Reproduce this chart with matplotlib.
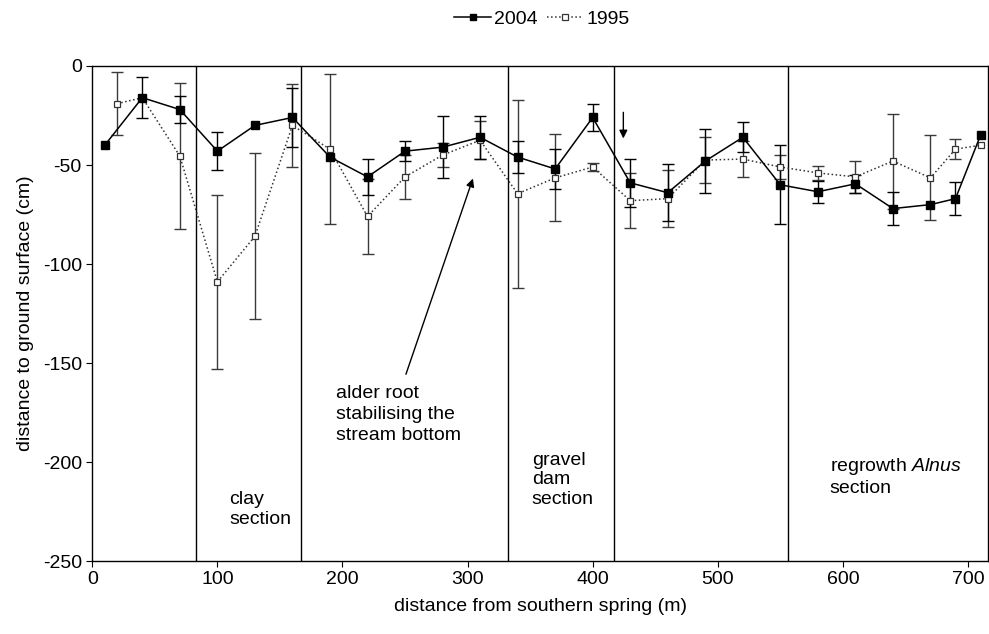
import matplotlib
matplotlib.use("Agg")
from matplotlib import pyplot as plt
from matplotlib.lines import Line2D

plt.rcParams['font.family'] = ['Liberation Sans', 'DejaVu Sans']
plt.rcParams['mathtext.fontset'] = 'custom'
plt.rcParams['mathtext.rm'] = 'Liberation Sans'
plt.rcParams['mathtext.it'] = 'Liberation Sans:italic'
plt.rcParams['axes.unicode_minus'] = False

# distance from southern spring (m)
x_2004 = [10, 40, 70, 100, 130, 160, 190, 220, 250, 280, 310, 340, 370,
          400, 430, 460, 490, 520, 550, 580, 610, 640, 670, 690, 710]
y_2004 = [-40, -16, -22, -43, -30, -26, -46, -56, -43, -41, -36, -46, -52,
          -26, -59, -64, -48, -36, -60, -63.5, -59.5, -72, -70, -67, -35]
err_2004 = [0, 10.5, 7, 9.5, 0, 15, 0, 9, 5, 15.5, 11, 8, 10,
            7, 12, 14.5, 16, 7.5, 20, 5.5, 4.5, 8.5, 0, 8.5, 0]

x_1995 = [20, 40, 70, 100, 130, 160, 190, 220, 250, 280, 310, 340, 370,
          400, 430, 460, 490, 520, 550, 580, 610, 640, 670, 690, 710]
y_1995 = [-19, -16, -45.5, -109, -86, -30, -42, -76, -56, -45, -37.5, -64.5, -56.5,
          -51, -68, -67, -47.5, -47, -51, -54, -56, -48, -56.5, -42, -40]
err_1995 = [16, 0, 37, 44, 42, 21, 38, 19, 11, 6, 9.5, 47.5, 22,
            2, 14, 14.5, 11.5, 9, 6, 3.5, 8, 24, 21.5, 5, 0]

section_bounds = [83, 167, 332, 417, 556]

fig = plt.figure(figsize=(9.89, 6.34), dpi=100)
ax = fig.add_axes([0.0933, 0.1151, 0.9057, 0.7808])


def bars(x, y, e):
    keep = [i for i in range(len(x)) if e[i] > 0]
    return [x[i] for i in keep], [y[i] for i in keep], [e[i] for i in keep]


# error bars only where there is a spread
bx, by, be = bars(x_1995, y_1995, err_1995)
ax.errorbar(bx, by, yerr=be, fmt='none', ecolor='#3a3a3a', elinewidth=1, capsize=4, zorder=2)
bx, by, be = bars(x_2004, y_2004, err_2004)
ax.errorbar(bx, by, yerr=be, fmt='none', ecolor='black', elinewidth=1, capsize=4, zorder=2)

ax.plot(x_1995, y_1995, color='#333333', linestyle=':', linewidth=1.1, marker='s',
        markersize=5, markerfacecolor='white', markeredgecolor='#333333',
        markeredgewidth=0.9, zorder=3)
ax.plot(x_2004, y_2004, color='black', linestyle='-', linewidth=1.1, marker='s',
        markersize=6, markerfacecolor='black', markeredgecolor='black', zorder=4)

for b in section_bounds:
    ax.axvline(b, color='black', linewidth=1, zorder=1)

ax.set_xlim(0, 716)
ax.set_ylim(-250, 0)
ax.set_xticks(range(0, 701, 100))
ax.set_yticks(range(-250, 1, 50))
ax.tick_params(direction='out', length=4, labelsize=14)
for s in ax.spines.values():
    s.set_linewidth(1)

ax.set_xlabel('distance from southern spring (m)', fontsize=14, labelpad=7)
ax.set_ylabel('distance to ground surface (cm)', fontsize=14, labelpad=6)

# annotations
ax.annotate('', xy=(305, -55.5), xytext=(250, -157),
            arrowprops=dict(arrowstyle='-|>', color='black', lw=1, mutation_scale=12))
ax.annotate('', xy=(424.5, -38), xytext=(424.5, -22),
            arrowprops=dict(arrowstyle='-|>', color='black', lw=1, mutation_scale=12))

ax.text(194.6, -175.8, 'alder root\nstabilising the\nstream bottom', fontsize=14,
        ha='left', va='center', linespacing=1.3)
ax.text(351.2, -209, 'gravel\ndam\nsection', fontsize=14, ha='left', va='center', linespacing=1.2)
ax.text(109.5, -224, 'clay\nsection', fontsize=14, ha='left', va='center', linespacing=1.2)
ax.text(589.6, -207.3, r'regrowth $\mathit{Alnus}$' + '\nsection', fontsize=14,
        ha='left', va='center', linespacing=1.2)

h2004 = Line2D([], [], color='black', linestyle='-', linewidth=1.1, marker='s', markersize=5,
               markerfacecolor='black')
h1995 = Line2D([], [], color='#333333', linestyle=':', linewidth=1.1, marker='s', markersize=4.5,
               markerfacecolor='white', markeredgecolor='#333333', markeredgewidth=0.9)
fig.legend([h2004, h1995], ['2004', '1995'], loc='center', bbox_to_anchor=(0.548, 0.97), ncol=2,
           frameon=False, fontsize=14, handlelength=1.9, handletextpad=0.15,
           columnspacing=0.45)

fig.savefig('out.png', dpi=100)
